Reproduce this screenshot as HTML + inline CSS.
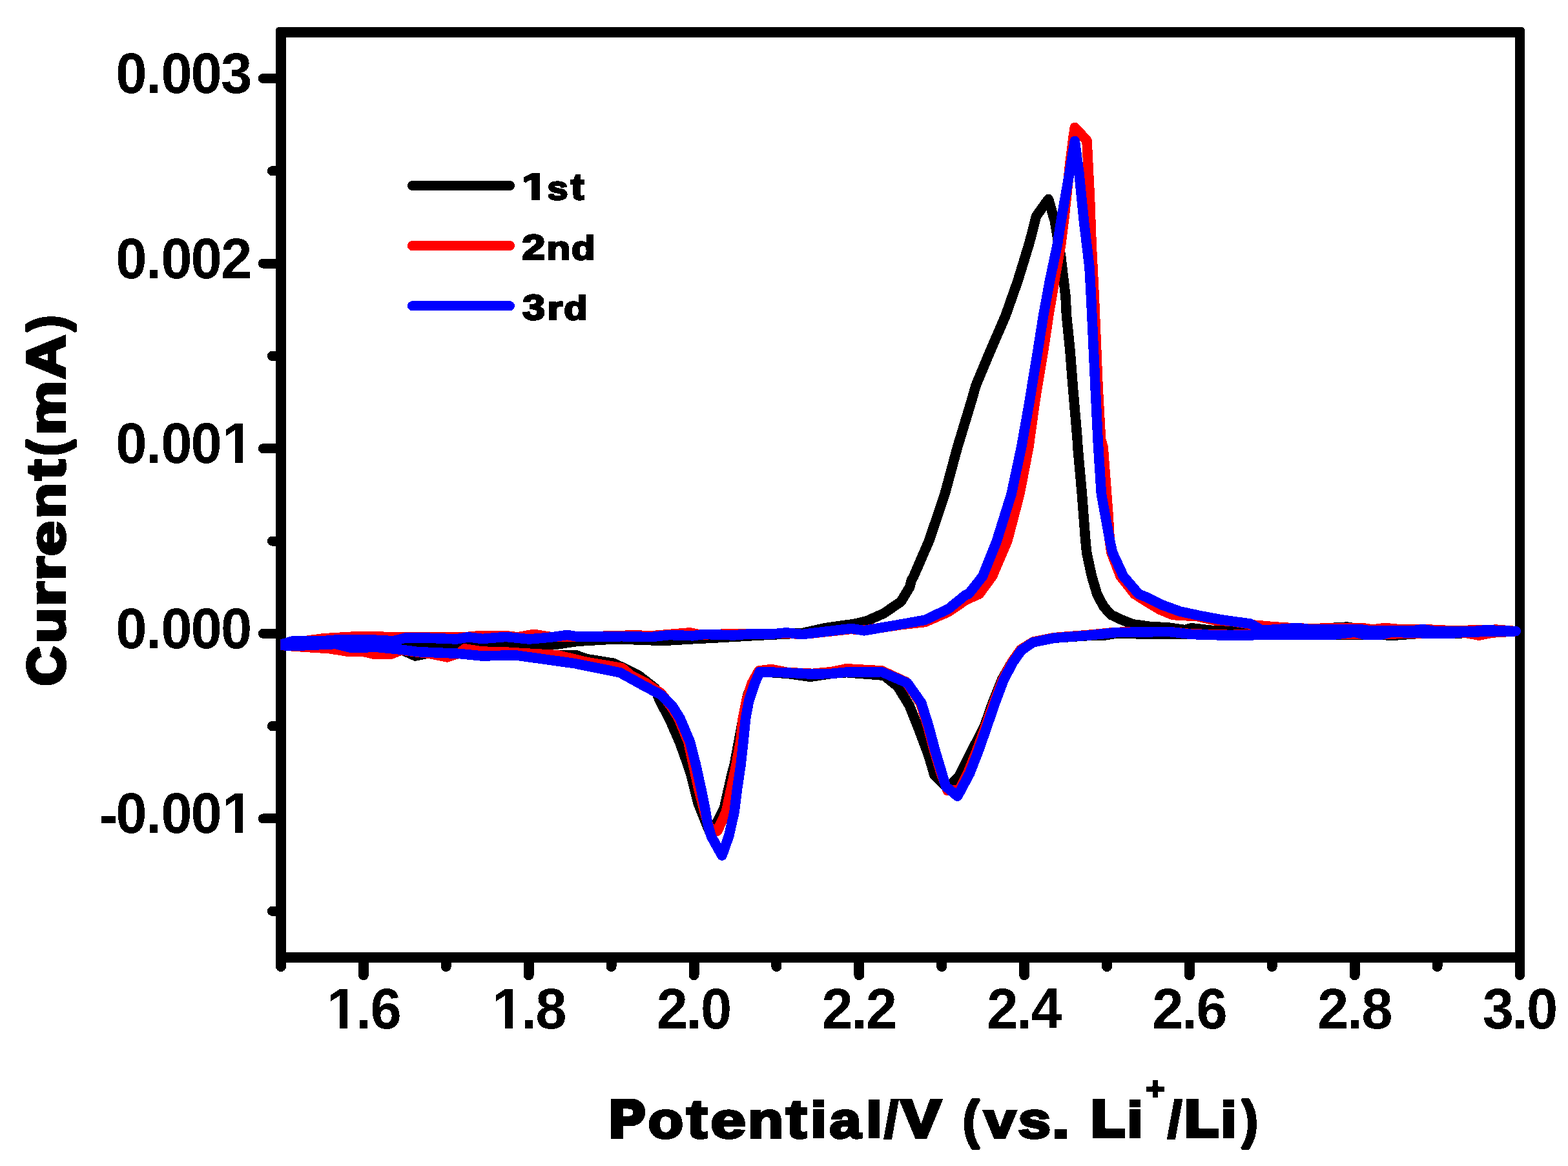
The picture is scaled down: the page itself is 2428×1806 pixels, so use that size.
<!DOCTYPE html>
<html lang="en">
<head>
<meta charset="utf-8">
<title>Cyclic voltammetry curves</title>
<style>
html,body{margin:0;padding:0;background:#fff;}
body{width:2428px;height:1806px;}
svg{display:block;}
text{font-family:"Liberation Sans",sans-serif;font-weight:bold;fill:#000;white-space:pre;}
.blk{stroke:#000;stroke-linejoin:miter;stroke-miterlimit:2;}
.ax{stroke:#000;fill:none;stroke-linecap:round;shape-rendering:crispEdges;}
.cv{fill:none;stroke-width:15.6;stroke-linejoin:round;stroke-linecap:round;shape-rendering:crispEdges;}
.mask rect{fill:#fff;shape-rendering:crispEdges;}
</style>
</head>
<body>
<svg width="2428" height="1806" viewBox="0 0 2428 1806">
<rect width="2428" height="1806" fill="#fff"/>
<defs><filter id="bin" filterUnits="userSpaceOnUse" x="0" y="0" width="2428" height="1806" color-interpolation-filters="sRGB"><feComponentTransfer><feFuncA type="discrete" tableValues="0 1"/></feComponentTransfer></filter></defs>
<defs><clipPath id="plot"><rect x="434.2" y="50" width="1921.8" height="1433"/></clipPath></defs>
<path shape-rendering="crispEdges" fill="#000" fill-rule="evenodd" d="M432.5,42 H2355.5 Q2361,42 2361,47.5 V1491 H427 V47.5 Q427,42 432.5,42 Z M443,58 V1475 H2346 V58 Z"/>
<g class="ax" stroke-width="16">
<path d="M435.0,1483.0 V1497.0 M562.9,1483.0 V1510.2 M690.8,1483.0 V1497.0 M818.7,1483.0 V1510.2 M946.6,1483.0 V1497.0 M1074.5,1483.0 V1510.2 M1202.4,1483.0 V1497.0 M1330.3,1483.0 V1510.2 M1458.2,1483.0 V1497.0 M1586.1,1483.0 V1510.2 M1714.0,1483.0 V1497.0 M1841.9,1483.0 V1510.2 M1969.8,1483.0 V1497.0 M2097.7,1483.0 V1510.2 M2225.6,1483.0 V1497.0"/>
<path stroke-width="15" d="M2353.5,1483.0 V1510.6"/>
<path stroke-width="15" d="M435.0,121.5 H407.3 M435.0,264.8 H421.4 M435.0,408.1 H407.3 M435.0,551.4 H421.4 M435.0,694.7 H407.3 M435.0,838.0 H421.4 M435.0,981.3 H407.3 M435.0,1124.6 H421.4 M435.0,1267.9 H407.3 M435.0,1411.2 H421.4"/>
</g>
<g filter="url(#bin)">
<g font-size="89" transform="scale(0.975,1)">
<text y="1592.9" x="518.81 565.12 588.14">1.6</text>
<text y="1592.9" x="781.17 827.47 850.50">1.8</text>
<text y="1592.9" x="1042.81 1089.83 1112.85">2.0</text>
<text y="1592.9" x="1305.17 1352.19 1375.21">2.2</text>
<text y="1592.9" x="1567.53 1614.55 1637.57">2.4</text>
<text y="1592.9" x="1829.89 1876.91 1899.93">2.6</text>
<text y="1592.9" x="2092.25 2139.27 2162.29">2.8</text>
<text y="1592.9" x="2354.61 2401.63 2424.65">3.0</text>
<text y="144 144 144 144 144" x="183.93 231.78 255.52 303.01 350.86">0.003</text>
<text y="430.6 430.6 430.6 430.6 430.6" x="183.93 231.78 255.52 303.01 350.86">0.002</text>
<text y="717.2 717.2 717.2 717.2 717.2" x="183.93 231.78 255.52 303.01 352.86">0.001</text>
<text y="1003.8 1003.8 1003.8 1003.8 1003.8" x="183.93 231.78 255.52 303.01 350.86">0.000</text>
<text y="1293 1290.4 1290.4 1290.4 1290.4 1290.4" x="157.58 183.93 231.78 255.52 303.01 352.86">-0.001</text>
</g>
</g>
<g class="cv" clip-path="url(#plot)">
<path stroke="#000" d="M2347.2,977.7 L2285.1,979.1 L2252.4,981.6 L2203.4,980.8 L2157.7,984.2 L2121.7,982.6 L2089.0,983.5 L2040.0,983.2 L1972.4,983.2 L1903.4,984.3 L1845.3,982.5 L1808.9,982.5 L1727.2,981.2 L1709.1,984.3 L1686.8,984.4 L1632.4,988.2 L1599.7,994.9 L1581.5,1007.2 L1567.0,1025.4 L1551.6,1052.6 L1537.0,1088.9 L1524.3,1125.3 L1521.8,1130.0 L1502.2,1168.1 L1485.6,1201.5 L1466.9,1220.2 L1446.8,1200.1 L1437.3,1168.1 L1423.0,1130.0 L1408.2,1093.0 L1390.4,1063.6 L1368.8,1046.2 L1310.7,1041.6 L1287.1,1043.4 L1254.4,1048.3 L1219.9,1043.4 L1194.5,1041.6 L1176.3,1040.7 L1174.3,1043.6 L1165.2,1058.2 L1157.9,1076.3 L1150.6,1112.6 L1143.9,1148.9 L1137.0,1185.3 L1133.0,1200.0 L1121.6,1250.8 L1100.7,1292.7 L1088.7,1263.5 L1081.1,1244.4 L1070.0,1200.0 L1065.3,1185.3 L1052.2,1148.9 L1036.3,1112.6 L1021.7,1085.4 L1014.3,1065.9 L988.8,1046.1 L950.7,1027.4 L908.9,1020.7 L890.8,1014.4 L863.5,1014.4 L800.0,1015.1 L783.1,1015.1 L746.8,1016.0 L710.5,1012.4 L665.1,1011.5 L643.3,1016.0 L628.8,1009.6 L619.7,1006.0 L583.4,1002.4 L543.5,1003.3 L519.9,997.5 L452.7,1000.6 L434.5,999.3 L420.0,998.9 L434.5,998.4 L528.9,998.9 L628.8,999.3 L728.7,999.8 L819.5,999.8 L863.5,997.8 L894.4,993.3 L954.3,989.7 L1027.0,992.4 L1072.4,989.7 L1108.7,987.9 L1172.2,984.2 L1241.7,980.8 L1278.0,972.6 L1323.4,966.3 L1341.6,962.1 L1368.8,949.9 L1395.1,931.8 L1408.8,909.1 L1410.9,900.0 L1414.9,892.4 L1438.5,837.9 L1463.0,765.3 L1482.6,692.6 L1504.6,620.0 L1510.8,597.9 L1533.5,543.4 L1557.1,488.9 L1576.2,434.5 L1592.9,379.9 L1598.4,359.7 L1604.4,335.2 L1623.4,308.5 L1633.1,341.6 L1642.5,396.0 L1650.1,460.0 L1651.5,488.9 L1657.0,543.4 L1661.2,597.9 L1668.2,680.0 L1668.9,692.6 L1675.4,765.3 L1680.9,837.9 L1682.7,856.0 L1690.5,892.4 L1698.7,920.0 L1709.1,939.8 L1720.9,952.5 L1736.3,959.8 L1753.6,966.7 L1781.7,970.6 L1808.9,971.9 L1834.4,975.6 L1845.3,972.8 L1881.6,977.0 L1936.0,977.9 L2008.7,972.6 L2026.8,974.5 L2085.8,971.1 L2121.7,977.0 L2203.4,974.6 L2252.4,977.3 L2285.1,976.2 L2347.2,977.7"/>
<path stroke="#f00" d="M2347.2,977.7 L2309.6,980.1 L2290.0,984.2 L2268.8,980.1 L2203.4,980.8 L2121.7,982.6 L2040.0,982.6 L1972.4,982.5 L1903.4,983.4 L1845.3,981.9 L1808.9,978.3 L1727.2,979.4 L1686.8,983.3 L1632.4,987.6 L1599.7,994.2 L1580.6,1006.3 L1567.0,1025.4 L1552.8,1052.6 L1538.8,1088.9 L1526.1,1125.3 L1512.9,1161.6 L1498.4,1197.9 L1485.3,1223.3 L1467.1,1224.2 L1457.3,1197.9 L1446.4,1161.6 L1436.8,1125.3 L1425.5,1088.9 L1403.3,1056.5 L1365.2,1038.9 L1310.7,1035.8 L1287.1,1040.7 L1258.0,1043.4 L1219.9,1041.6 L1194.5,1036.5 L1175.4,1038.9 L1172.4,1043.6 L1164.3,1058.2 L1155.7,1085.4 L1150.3,1112.6 L1146.7,1148.9 L1139.8,1185.3 L1132.1,1221.6 L1124.3,1257.9 L1110.7,1287.1 L1098.0,1281.5 L1091.1,1257.9 L1081.7,1221.6 L1073.7,1185.3 L1065.7,1148.9 L1050.8,1112.6 L1039.5,1094.5 L1023.5,1073.6 L999.0,1057.2 L978.2,1046.9 L963.4,1034.7 L908.9,1025.6 L863.5,1014.7 L800.0,1011.1 L783.1,1010.0 L746.8,1009.1 L719.6,1004.9 L710.5,1012.0 L692.4,1017.8 L665.1,1012.4 L621.5,1006.9 L605.2,1013.3 L579.8,1013.3 L561.6,1009.1 L538.0,1009.1 L510.8,1004.7 L456.3,1001.1 L434.5,999.3 L420.0,998.9 L434.5,997.8 L501.7,988.8 L556.2,985.5 L583.4,985.5 L601.6,986.9 L637.9,986.9 L719.6,986.9 L743.2,984.6 L783.1,984.6 L801.3,986.9 L819.5,983.7 L827.2,982.4 L852.7,986.6 L890.8,986.6 L981.6,983.9 L1008.8,984.8 L1068.7,979.9 L1083.3,983.0 L1145.0,981.7 L1199.5,981.7 L1218.1,980.8 L1241.7,982.6 L1318.0,974.4 L1337.9,976.3 L1396.0,967.5 L1432.4,963.5 L1468.7,947.6 L1495.9,929.1 L1516.2,920.0 L1536.5,892.4 L1559.8,837.9 L1578.8,765.3 L1592.8,692.6 L1602.9,620.0 L1606.5,597.9 L1615.6,543.4 L1623.7,488.9 L1632.8,434.5 L1642.5,379.9 L1647.4,341.6 L1653.2,287.1 L1657.2,250.8 L1661.8,214.5 L1664.3,197.4 L1683.0,217.7 L1687.4,305.3 L1690.1,377.9 L1694.3,460.0 L1695.5,488.9 L1700.0,597.9 L1704.5,680.0 L1708.1,692.6 L1713.6,765.3 L1716.3,801.6 L1718.3,837.9 L1721.0,856.0 L1735.0,892.4 L1756.8,920.0 L1776.3,932.5 L1796.2,944.3 L1816.2,952.5 L1854.3,954.7 L1881.6,960.8 L1908.8,962.5 L1941.5,968.1 L1972.4,970.8 L1999.6,972.6 L2026.8,973.6 L2072.7,972.8 L2113.5,973.1 L2125.0,975.2 L2144.6,972.4 L2170.7,975.2 L2203.4,974.6 L2252.4,977.0 L2285.1,975.9 L2317.8,975.2 L2347.2,977.7"/>
<path stroke="#00f" d="M2347.2,977.7 L2268.8,979.1 L2244.3,981.6 L2203.4,980.8 L2154.4,979.1 L2138.0,983.2 L2113.5,983.2 L2097.2,979.1 L2064.5,983.2 L2040.0,983.2 L1972.4,983.2 L1903.4,984.3 L1845.3,982.5 L1808.9,978.3 L1727.2,979.7 L1686.8,984.0 L1632.4,988.2 L1599.7,994.9 L1581.5,1007.2 L1568.8,1025.4 L1554.3,1052.6 L1540.7,1088.9 L1528.3,1125.3 L1515.6,1161.6 L1501.6,1197.9 L1482.7,1233.3 L1464.6,1218.2 L1458.6,1197.9 L1447.7,1161.6 L1438.1,1125.3 L1426.8,1088.9 L1405.1,1058.0 L1365.2,1040.7 L1310.7,1041.1 L1287.1,1043.4 L1258.0,1044.2 L1219.9,1042.0 L1194.5,1041.1 L1176.3,1040.7 L1175.2,1043.6 L1168.8,1058.2 L1159.7,1085.4 L1154.6,1112.6 L1151.0,1148.9 L1147.0,1185.3 L1141.6,1221.6 L1137.0,1257.9 L1128.9,1294.2 L1118.0,1325.1 L1101.3,1295.3 L1095.8,1276.2 L1091.5,1250.8 L1085.6,1221.6 L1077.7,1185.3 L1068.4,1148.9 L1053.0,1112.6 L1041.7,1094.5 L1023.5,1076.3 L996.3,1061.8 L960.0,1041.8 L890.8,1027.8 L845.4,1021.4 L800.0,1015.1 L783.1,1015.1 L746.8,1016.0 L710.5,1012.4 L647.0,1009.6 L619.7,1006.0 L583.4,1002.4 L543.5,1003.3 L519.9,997.5 L452.7,1000.6 L434.5,999.3 L420.0,998.9 L434.5,998.4 L452.7,993.1 L501.7,992.6 L521.7,990.9 L583.4,991.3 L608.8,992.8 L628.8,987.9 L656.0,987.9 L706.9,990.0 L725.0,986.8 L746.8,989.5 L783.1,986.4 L819.5,990.0 L852.7,987.1 L878.1,983.5 L894.4,986.2 L963.4,985.7 L1008.8,986.6 L1036.0,983.5 L1072.4,984.8 L1090.5,982.4 L1135.9,983.9 L1163.1,981.7 L1199.5,981.7 L1218.1,979.9 L1241.7,982.6 L1318.0,973.5 L1337.9,976.8 L1396.0,966.8 L1432.4,960.3 L1468.7,943.0 L1495.9,920.9 L1499.9,920.0 L1521.7,892.4 L1543.4,837.9 L1566.1,765.3 L1581.6,692.6 L1594.5,620.0 L1598.0,597.9 L1607.0,543.4 L1615.6,488.9 L1625.6,434.5 L1637.1,379.9 L1643.1,341.6 L1655.9,268.9 L1664.3,218.5 L1671.0,268.9 L1678.3,341.6 L1687.0,414.2 L1689.5,460.0 L1690.9,488.9 L1696.0,597.9 L1700.0,680.0 L1700.7,692.6 L1705.4,765.3 L1718.7,837.9 L1722.7,856.0 L1739.5,892.4 L1763.1,920.0 L1776.3,925.3 L1799.9,937.1 L1827.1,947.0 L1858.0,953.6 L1890.6,959.8 L1936.0,966.1 L1954.2,976.3 L2008.7,972.6 L2026.8,974.5 L2040.0,974.6 L2105.4,974.6 L2121.7,977.0 L2187.1,977.0 L2203.4,974.6 L2219.8,977.3 L2285.1,977.3 L2301.5,975.7 L2347.2,977.7"/>
</g>
<g class="cv">
<path stroke-width="15" stroke="#000" d="M638.4,287.5 H789.5"/>
<path stroke-width="15" stroke="#f00" d="M638.4,380.6 H789.5"/>
<path stroke-width="15" stroke="#00f" d="M638.4,473.8 H789.5"/>
</g>
<g class="blk" filter="url(#bin)" stroke-width="2.7">
<text aria-label="1st"><tspan font-size="56.6" x="807.80" y="309.05" textLength="39.76" lengthAdjust="spacingAndGlyphs">1</tspan><tspan font-size="52" x="847.27" textLength="32.31" lengthAdjust="spacingAndGlyphs">s</tspan><tspan font-size="57.3" x="883.91" textLength="20.78" lengthAdjust="spacingAndGlyphs">t</tspan></text>
<text aria-label="2nd"><tspan font-size="54.8" x="808.15" y="402.15" textLength="36.15" lengthAdjust="spacingAndGlyphs">2</tspan><tspan font-size="52" x="846.28" textLength="37.00" lengthAdjust="spacingAndGlyphs">n</tspan><tspan font-size="52" x="885.10" textLength="36.49" lengthAdjust="spacingAndGlyphs">d</tspan></text>
<text aria-label="3rd"><tspan font-size="54.8" x="808.91" y="495.35" textLength="35.12" lengthAdjust="spacingAndGlyphs">3</tspan><tspan font-size="52" x="847.74" textLength="24.00" lengthAdjust="spacingAndGlyphs">r</tspan><tspan font-size="52" x="873.31" textLength="36.27" lengthAdjust="spacingAndGlyphs">d</tspan></text>
</g>
<g class="blk" filter="url(#bin)" stroke-width="4">
<text aria-label="Potential/V (vs. Li+/Li)"><tspan font-size="79.4" x="943.94" y="1760.10" textLength="54.35" lengthAdjust="spacingAndGlyphs" stroke-width="7">P</tspan><tspan font-size="78" x="1003.60" y="1761.60" textLength="54.60" lengthAdjust="spacingAndGlyphs">o</tspan><tspan font-size="86" x="1063.16" y="1761.60" textLength="31.88" lengthAdjust="spacingAndGlyphs">t</tspan><tspan font-size="78" x="1100.59" y="1761.60" textLength="54.35" lengthAdjust="spacingAndGlyphs">e</tspan><tspan font-size="78" x="1158.28" y="1761.60" textLength="54.89" lengthAdjust="spacingAndGlyphs">n</tspan><tspan font-size="86" x="1217.25" y="1761.60" textLength="31.79" lengthAdjust="spacingAndGlyphs">t</tspan><tspan font-size="78" x="1255.04" y="1761.60" textLength="24.91" lengthAdjust="spacingAndGlyphs">i</tspan><tspan font-size="78" x="1284.48" y="1761.60" textLength="49.00" lengthAdjust="spacingAndGlyphs">a</tspan><tspan font-size="78" x="1340.89" y="1761.60" textLength="25.21" lengthAdjust="spacingAndGlyphs">l</tspan><tspan font-size="79" x="1369.48" y="1761.60" textLength="21.13" lengthAdjust="spacingAndGlyphs">/</tspan><tspan font-size="81.5" x="1395.47" y="1760.85" textLength="61.35" lengthAdjust="spacingAndGlyphs" stroke-width="5.5">V</tspan><tspan font-size="78" x="1465.00" y="1761.60"> </tspan><tspan font-size="82.3" x="1491.05" y="1761.60" textLength="25.47" lengthAdjust="spacingAndGlyphs">(</tspan><tspan font-size="78" x="1523.73" y="1761.60" textLength="49.38" lengthAdjust="spacingAndGlyphs">v</tspan><tspan font-size="78" x="1576.43" y="1761.60" textLength="50.56" lengthAdjust="spacingAndGlyphs">s</tspan><tspan font-size="78" x="1628.76" y="1761.60" textLength="27.87" lengthAdjust="spacingAndGlyphs">.</tspan><tspan font-size="78" x="1660.00" y="1761.60"> </tspan><tspan font-size="79.4" x="1689.80" y="1760.10" textLength="50.99" lengthAdjust="spacingAndGlyphs" stroke-width="7">L</tspan><tspan font-size="78" x="1745.02" y="1761.60" textLength="25.06" lengthAdjust="spacingAndGlyphs">i</tspan><tspan font-size="47.5" x="1774.58" y="1702.70" textLength="29.06" lengthAdjust="spacingAndGlyphs" stroke-width="3">+</tspan><tspan font-size="79" x="1808.21" y="1761.60" textLength="21.58" lengthAdjust="spacingAndGlyphs">/</tspan><tspan font-size="79.4" x="1835.00" y="1760.10" textLength="50.89" lengthAdjust="spacingAndGlyphs" stroke-width="7">L</tspan><tspan font-size="78" x="1890.02" y="1761.60" textLength="25.06" lengthAdjust="spacingAndGlyphs">i</tspan><tspan font-size="82.3" x="1922.76" y="1761.60" textLength="25.16" lengthAdjust="spacingAndGlyphs">)</tspan></text>
<text aria-label="Current(mA)" transform="translate(102.1,1100) rotate(-90)"><tspan font-size="79.8" x="38.32" y="-3.00" textLength="59.54" lengthAdjust="spacingAndGlyphs" stroke-width="6">C</tspan><tspan font-size="78" x="103.20" y="-2.00" textLength="55.46" lengthAdjust="spacingAndGlyphs">u</tspan><tspan font-size="78" x="160.58" y="-2.00" textLength="38.87" lengthAdjust="spacingAndGlyphs">r</tspan><tspan font-size="78" x="200.39" y="-2.00" textLength="37.79" lengthAdjust="spacingAndGlyphs">r</tspan><tspan font-size="78" x="238.89" y="-2.00" textLength="54.45" lengthAdjust="spacingAndGlyphs">e</tspan><tspan font-size="78" x="296.61" y="-2.00" textLength="56.03" lengthAdjust="spacingAndGlyphs">n</tspan><tspan font-size="86" x="356.15" y="-2.00" textLength="31.79" lengthAdjust="spacingAndGlyphs">t</tspan><tspan font-size="82.3" x="393.86" y="-2.00" textLength="25.37" lengthAdjust="spacingAndGlyphs">(</tspan><tspan font-size="78" x="425.86" y="-2.00" textLength="84.81" lengthAdjust="spacingAndGlyphs">m</tspan><tspan font-size="83" x="513.31" y="-2.25" textLength="67.52" lengthAdjust="spacingAndGlyphs" stroke-width="4.5">A</tspan><tspan font-size="82.3" x="586.58" y="-2.00" textLength="25.37" lengthAdjust="spacingAndGlyphs">)</tspan></text>
</g>
<g class="mask">
<rect x="509.81" y="1582.22" width="16.29" height="12.18"/>
<rect x="538.00" y="1582.22" width="15.19" height="12.18"/>
<rect x="765.61" y="1582.22" width="16.29" height="12.18"/>
<rect x="793.80" y="1582.22" width="15.19" height="12.18"/>
<rect x="348.01" y="706.52" width="16.29" height="12.18"/>
<rect x="376.20" y="706.52" width="15.19" height="12.18"/>
<rect x="348.01" y="1279.72" width="16.29" height="12.18"/>
<rect x="376.20" y="1279.72" width="15.19" height="12.18"/>
<rect x="809.10" y="300.33" width="13.68" height="11.57"/>
<rect x="836.00" y="300.33" width="12.77" height="11.57"/>
</g>
</svg>
</body>
</html>
